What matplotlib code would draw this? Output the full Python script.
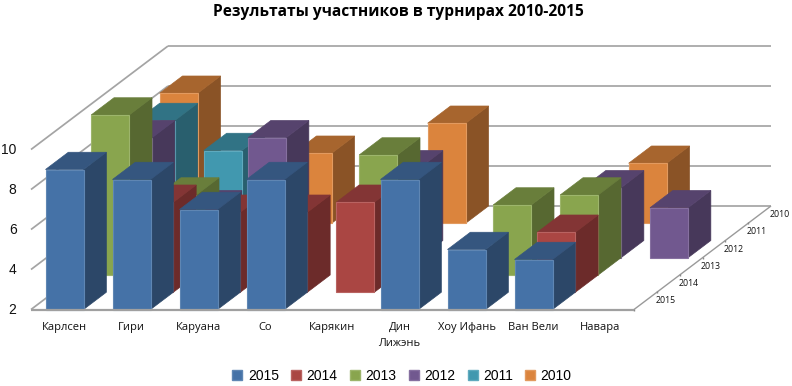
import numpy as np
import matplotlib
matplotlib.use("Agg")
import matplotlib.pyplot as plt
from matplotlib.patches import Patch

n = np.nan
categories = ["Карлсен", "Гири", "Каруана", "Со", "Карякин", "Дин\nЛижэнь", "Хоу Ифань", "Ван Вели", "Навара"]
series_names = ["2015", "2014", "2013", "2012", "2011", "2010"]
v2015 = [9, 8.5, 7, 8.5, n, 8.5, 5, 4.5, n]
v2014 = [n, 6.5, 6, 6, 6.5, n, n, 5, n]
v2013 = [10, 6, n, n, 8, n, 5.5, 6, n]
v2012 = [8, 4.5, 8, n, 6.5, n, n, 5.5, 4.5]
v2011 = [8, 6.5, n, n, n, n, n, n, n]
v2010 = [8.5, n, 5.5, n, 7, n, n, 5, n]
series_values = [v2015, v2014, v2013, v2012, v2011, v2010]
y_ticks = [2, 4, 6, 8, 10]
title = "Результаты участников в турнирах 2010-2015"

front = ["#4572A7", "#AA4643", "#89A54E", "#71588F", "#4198AF", "#DB843D"]
top = ["#35567F", "#833535", "#697E3B", "#56436D", "#317385", "#A7652E"]
side = ["#2C4768", "#6C2B2A", "#576831", "#47385A", "#295F6E", "#8A5326"]
edge_f = ["#5F86B3", "#B96361", "#9DB56C", "#8670A0", "#5FAABE", "#E29A5F"]

W, H = 792, 386
X0, PX_CAT = 31.0, 67.0
Y0, PX_UNIT = 309.5, 20.0
DX_PX, DY_PX = 137.0 / 6, 103.5 / 6
BAR_W = 38.0 / PX_CAT

fig = plt.figure(figsize=(W / 100, H / 100), dpi=100)
ax = fig.add_axes([0, 0, 1, 1])
ax.set_xlim(-X0 / PX_CAT, (W - X0) / PX_CAT)
ax.set_ylim(2 - (H - Y0) / PX_UNIT, 2 + Y0 / PX_UNIT)
ax.axis("off")

DX = DX_PX / PX_CAT
DY = DY_PX / PX_UNIT


def proj(x, v, d):
    return x + d * DX, v + d * DY


def line(a, b, **kw):
    ax.plot([a[0], b[0]], [a[1], b[1]], solid_capstyle="butt", **kw)


GRID = "#A4A4A4"
nc, ns = len(categories), len(series_names)
for v in y_ticks:
    lw = 1.25
    line(proj(0, v, 0), proj(0, v, ns), color=GRID, lw=lw, zorder=1)
    line(proj(0, v, ns), proj(nc, v, ns), color=GRID, lw=lw, zorder=1)
line(proj(0, 2, 0), proj(nc, 2, 0), color="#A0A0A0", lw=1.6, zorder=500)
line(proj(nc, 2, 0), proj(nc, 2, ns), color="#9A9A9A", lw=1.0, zorder=2)

z = 10
for s in range(ns - 1, -1, -1):
    for c in range(nc):
        v = series_values[s][c]
        if np.isnan(v):
            continue
        xl = c + 0.5 - BAR_W / 2
        xr = c + 0.5 + BAR_W / 2
        pts_top = [proj(xl, v, s), proj(xr, v, s), proj(xr, v, s + 1), proj(xl, v, s + 1)]
        pts_side = [proj(xr, 2, s), proj(xr, v, s), proj(xr, v, s + 1), proj(xr, 2, s + 1)]
        pts_front = [proj(xl, 2, s), proj(xr, 2, s), proj(xr, v, s), proj(xl, v, s)]
        ax.fill(*zip(*pts_side), fc=side[s], ec=side[s], lw=0.5, zorder=z)
        ax.fill(*zip(*pts_top), fc=top[s], ec=top[s], lw=0.5, zorder=z + 1)
        ax.fill(*zip(*pts_front), fc=front[s], ec=edge_f[s], lw=0.8, zorder=z + 2)
        z += 3

FONT = "Open Sans"
# value labels
for v in y_ticks:
    ax.text(-14.5 / PX_CAT, v, str(v), ha="right", va="center", fontsize=10.0,
            family="Liberation Sans", color="#111111", zorder=600)
# category labels: one text per line, placed on its baseline
for c, name in enumerate(categories):
    for k, part in enumerate(name.split("\n")):
        ax.text(c + 0.5, 2 - (20.5 + 16.0 * k) / PX_UNIT, part, ha="center", va="baseline", fontsize=8.0,
                family=FONT, color="#111111", zorder=600)
# series labels on depth axis
for s, name in enumerate(series_names):
    x, y = proj(nc, 2, s + 0.5)
    ax.text(x + 20.0 / PX_CAT, y, name, ha="center", va="center", fontsize=6.3,
            family=FONT, color="#111111", zorder=600)
    a = proj(nc, 2, s)
    ax.plot([a[0]], [a[1]], marker="|", ms=2, color="#8A8A8A", zorder=3)

ax.text((398.5 - X0) / PX_CAT, 2 + (Y0 - 12.0) / PX_UNIT, title, ha="center", va="center",
        fontsize=11.2, fontweight="bold", family=FONT, color="#000000")

handles = [Patch(fc=front[i], ec=edge_f[i], label=series_names[i]) for i in range(ns)]
leg = ax.legend(handles=handles, ncol=ns, loc="center", frameon=False,
                bbox_to_anchor=(402 / W, 1 - 375.5 / H), bbox_transform=fig.transFigure,
                handlelength=0.72, handleheight=0.72, handletextpad=0.4, columnspacing=0.88,
                prop={"family": "Liberation Sans", "size": 10.0}, borderpad=0, borderaxespad=0)

fig.savefig("out.png", dpi=100)
